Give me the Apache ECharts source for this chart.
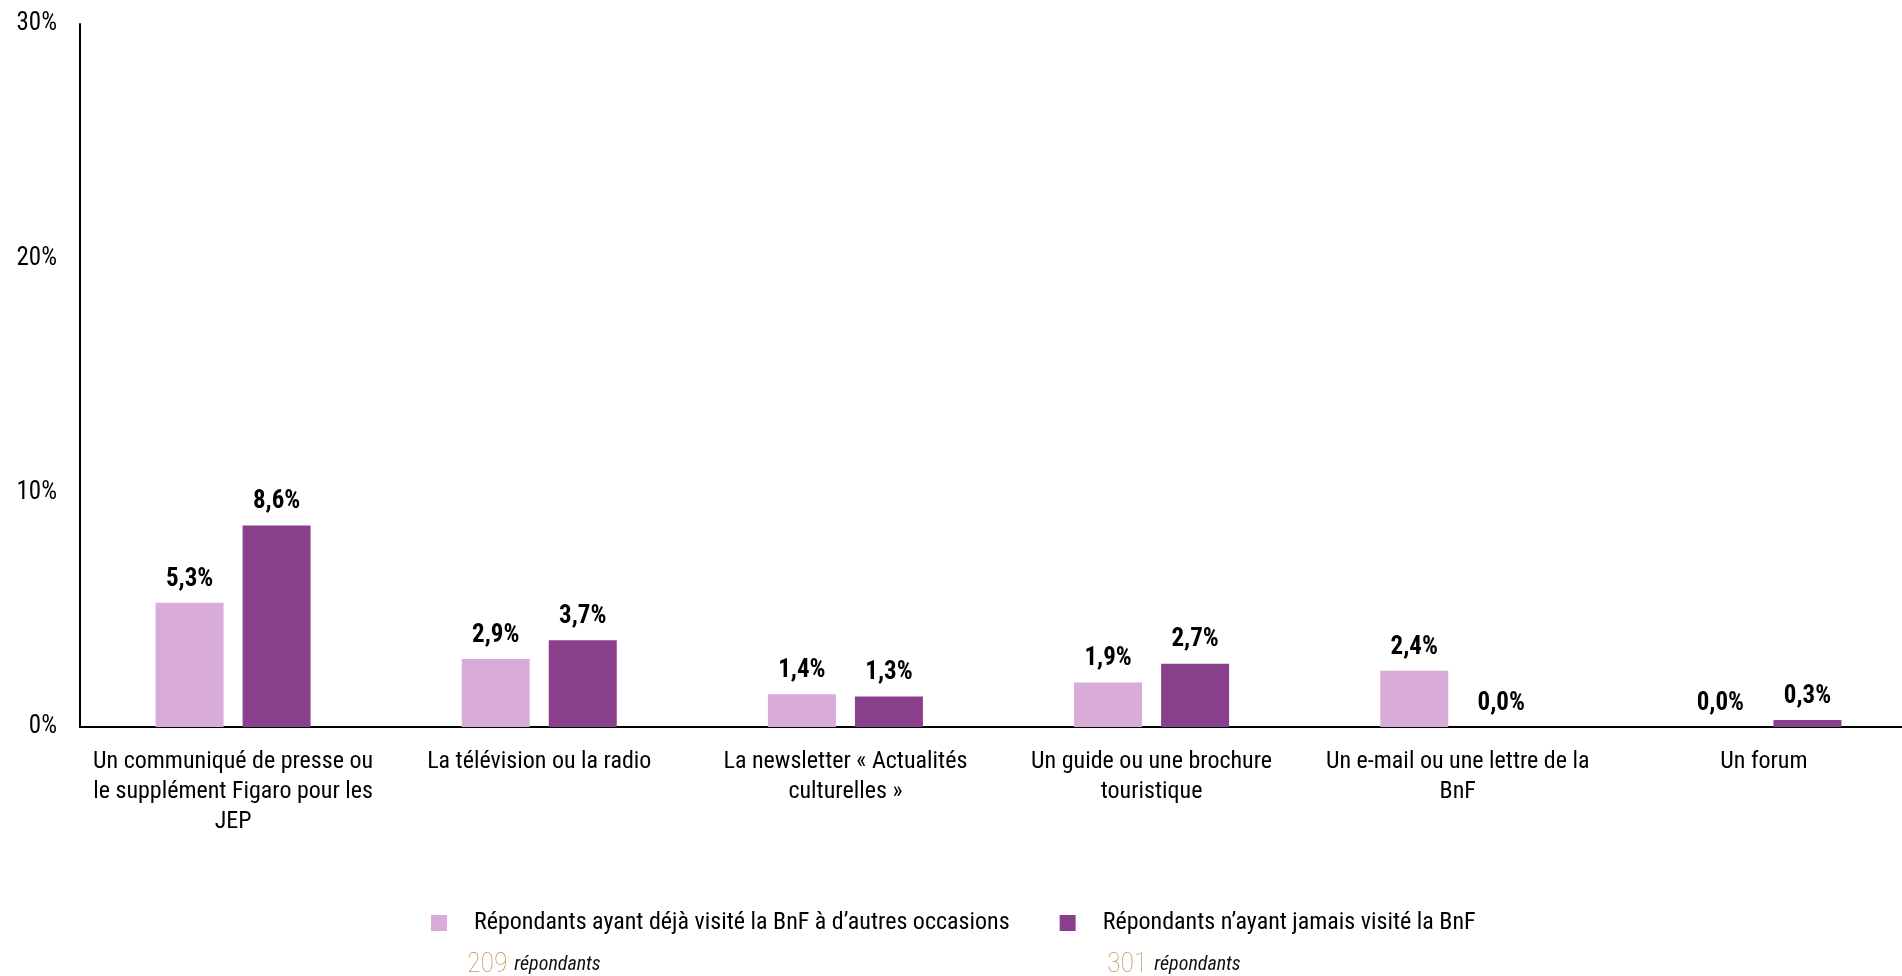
<!DOCTYPE html>
<html>
<head>
<meta charset="utf-8">
<script src="https://cdn.jsdelivr.net/npm/echarts@6/dist/echarts.min.js"></script>
<style>
html,body{margin:0;padding:0;background:#fff;}
#chart{width:1902px;height:976px;}
</style>
</head>
<body>
<div id="chart"></div>
<script>
const categories = [
  "Un communiqué de presse ou\nle supplément Figaro pour les\nJEP",
  "La télévision ou la radio",
  "La newsletter « Actualités\nculturelles »",
  "Un guide ou une brochure\ntouristique",
  "Un e-mail ou une lettre de la\nBnF",
  "Un forum"
];
const seriesNames = [
  "Répondants ayant déjà visité la BnF à d’autres occasions",
  "Répondants n’ayant jamais visité la BnF"
];
const visitedValues = [5.3, 2.9, 1.4, 1.9, 2.4, 0.0];
const neverValues = [8.6, 3.7, 1.3, 2.7, 0.0, 0.3];
const respondentCounts = ["209", "301"];
const yTicks = [0, 10, 20, 30];

const FONT = '"Liberation Sans Narrow", "Arial Narrow", "Roboto Condensed", "DejaVu Sans Condensed", sans-serif';
const colors = ['#D8ABD8', '#893F8B'];

const chart = echarts.init(document.getElementById('chart'));
const fmt = v => v.toFixed(1).replace('.', ',') + '%';

const subRich = {
  n: { fontSize: 28, fontWeight: 'lighter', fill: '#BC9552', fontFamily: FONT },
  r: { fontSize: 20, fontStyle: 'italic', fill: '#111', fontFamily: FONT }
};

chart.setOption({
  animation: false,
  textStyle: { fontFamily: FONT },
  grid: { left: 80, width: 1837, top: 24, bottom: 249, containLabel: false, outerBoundsMode: 'none' },
  legend: {
    data: seriesNames,
    top: 906,
    left: 426,
    itemWidth: 16,
    itemHeight: 16,
    itemGap: 50,
    icon: 'rect',
    textStyle: { fontFamily: FONT, fontSize: 24, lineHeight: 24, color: '#000', padding: [0, 0, 0, 22] }
  },
  xAxis: {
    type: 'category',
    data: categories,
    axisLine: { lineStyle: { color: '#000', width: 2 } },
    axisTick: { show: false },
    axisLabel: {
      interval: 0,
      margin: 20,
      lineHeight: 30,
      fontSize: 24,
      color: '#000',
      fontFamily: FONT
    }
  },
  yAxis: {
    type: 'value',
    min: yTicks[0],
    max: yTicks[yTicks.length - 1],
    interval: 10,
    axisLine: { show: true, lineStyle: { color: '#000', width: 2 } },
    axisTick: { show: false },
    splitLine: { show: false },
    axisLabel: {
      margin: 23,
      fontSize: 25,
      color: '#000',
      fontFamily: FONT,
      formatter: v => v + '%'
    }
  },
  series: [
    {
      name: seriesNames[0],
      type: 'bar',
      data: visitedValues,
      barWidth: 68,
      barGap: '28%',
      itemStyle: { color: colors[0] },
      label: {
        show: true, position: 'top', distance: 11,
        formatter: p => fmt(p.value),
        fontSize: 25, fontWeight: 'bold', color: '#000', fontFamily: FONT
      }
    },
    {
      name: seriesNames[1],
      type: 'bar',
      data: neverValues,
      barWidth: 68,
      itemStyle: { color: colors[1] },
      label: {
        show: true, position: 'top', distance: 11,
        formatter: p => fmt(p.value),
        fontSize: 25, fontWeight: 'bold', color: '#000', fontFamily: FONT
      }
    }
  ],
  graphic: [
    {
      type: 'text', left: 467, top: 951,
      style: { text: '{n|' + respondentCounts[0] + '}  {r|répondants}', rich: subRich }
    },
    {
      type: 'text', left: 1107, top: 951,
      style: { text: '{n|' + respondentCounts[1] + '}  {r|répondants}', rich: subRich }
    }
  ]
});
</script>
</body>
</html>
